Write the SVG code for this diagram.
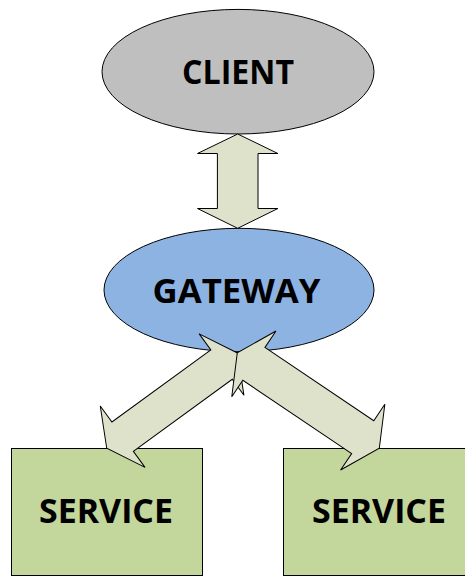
<svg xmlns="http://www.w3.org/2000/svg" width="465" height="578" viewBox="0 0 465 578">
  <style>
    .node { stroke: #000; stroke-width: 1; }
    .client { fill: #bfbfbf; }
    .gateway { fill: #8db3e2; }
    .service { fill: #c3d69b; }
    .arrow { fill: #dee2cb; stroke: #000; stroke-width: 1; stroke-linejoin: miter; }
    .label { font-family: "Open Sans", "Liberation Sans", sans-serif; font-weight: 700; font-size: 33.5px; fill: #000; }
  </style>
  <rect width="465" height="578" fill="#fff"/>
  <g id="client">
    <ellipse class="node client" cx="238" cy="71.7" rx="136" ry="62.3"/>
    <text class="label" x="182" y="84" textLength="112" lengthAdjust="spacingAndGlyphs">CLIENT</text>
  </g>
  <g id="gateway">
    <ellipse class="node gateway" cx="239" cy="290" rx="135" ry="61.7"/>
    <text class="label" x="152.5" y="302.5" textLength="168" lengthAdjust="spacingAndGlyphs">GATEWAY</text>
  </g>
  <g id="service-left">
    <rect class="node service" x="11.5" y="448.5" width="191" height="127"/>
    <text class="label" x="39" y="523" textLength="134" lengthAdjust="spacingAndGlyphs">SERVICE</text>
  </g>
  <g id="service-right">
    <rect class="node service" x="283.5" y="448.5" width="191" height="127"/>
    <text class="label" x="312" y="523" textLength="134" lengthAdjust="spacingAndGlyphs">SERVICE</text>
  </g>
  <g id="connectors">
    <polygon class="arrow" points="237.7,134 277.9,153.5 258,153.5 258,208.5 277.9,208.5 237.7,228.3 197.5,208.5 217.4,208.5 217.4,153.5 197.5,153.5"/>
    <polygon class="arrow" transform="translate(172.1,400.65) rotate(-36.08)" points="80.9,0 61.2,-38 61.2,-18.2 -61.2,-18.2 -61.2,-38 -80.9,0 -61.2,38 -61.2,18.2 61.2,18.2 61.2,38"/>
    <polygon class="arrow" transform="translate(308.3,400.5) rotate(33.95)" points="85.6,0 65.6,-39.6 65.6,-19.8 -65.6,-19.8 -65.6,-39.6 -85.6,0 -65.6,39.6 -65.6,19.8 65.6,19.8 65.6,39.6"/>
  </g>
</svg>
